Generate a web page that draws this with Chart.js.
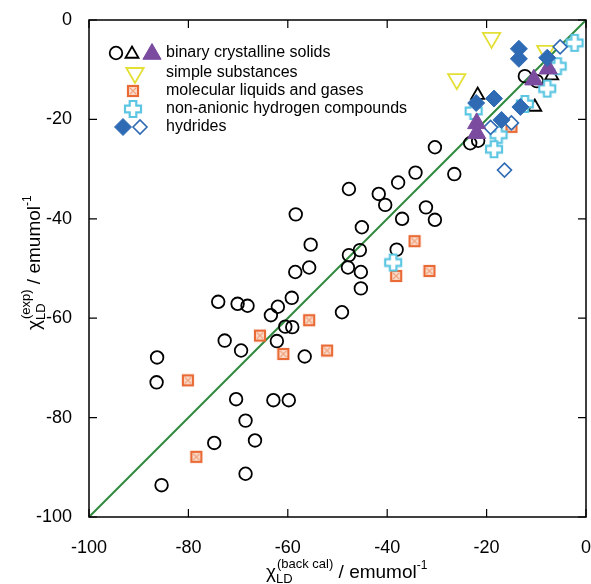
<!DOCTYPE html>
<html>
<head>
<meta charset="utf-8">
<script src="https://cdn.jsdelivr.net/npm/chart.js@4/dist/chart.umd.min.js"></script>
<style>
  html, body { margin: 0; padding: 0; background: #fff; }
  #wrap { width: 591px; height: 584px; position: relative; }
</style>
</head>
<body>
<div id="wrap"><canvas id="chart" width="591" height="584"></canvas></div>
<script>
// binary crystalline solids - open circles
const circleX = [-12.3, -9.9, -23.3, -21.7, -30.4, -34.3, -26.5, -37.8, -47.7, -41.7, -40.4, -32.2, -30.4, -37.0,
  -58.4, -45.1, -55.4, -38.1, -45.5, -47.7, -47.9, -55.7, -58.5, -45.3, -45.3, -59.2, -74.0, -70.1, -68.1, -62.0,
  -49.1, -63.4, -60.5, -59.1, -72.7, -62.2, -69.4, -56.6, -86.3, -86.4, -70.4, -62.9, -59.8, -68.5, -74.8, -66.6,
  -68.5, -85.4];
const circleY = [-11.3, -12.3, -24.8, -24.3, -25.6, -30.7, -31.0, -32.7, -34.0, -35.0, -37.2, -37.7, -40.2, -40.0,
  -39.1, -41.7, -45.2, -46.2, -46.3, -47.3, -49.8, -49.8, -50.7, -50.7, -54.0, -55.9, -56.7, -57.1, -57.5, -57.7,
  -58.8, -59.4, -61.7, -61.8, -64.5, -64.6, -66.5, -67.7, -67.9, -72.9, -76.3, -76.5, -76.5, -80.6, -85.1, -84.6,
  -91.3, -93.6];
// binary crystalline solids - open triangles
const openTriX = [-6.9, -21.8, -10.3];
const openTriY = [-11.2, -15.1, -17.5];
// binary crystalline solids - filled triangles
const fillTriX = [-7.6, -10.5, -22.0, -22.0];
const fillTriY = [-9.8, -12.0, -20.8, -22.8];
// simple substances
const simpleX = [-19.0, -8.1, -26.0];
const simpleY = [-3.6, -6.2, -11.9];
// molecular liquids and gases
const moleculeX = [-15.0, -34.5, -38.2, -31.5, -55.7, -52.1, -65.6, -60.9, -80.1, -78.4];
const moleculeY = [-21.5, -44.5, -51.5, -50.5, -60.4, -66.5, -63.5, -67.2, -72.5, -87.9];
// non-anionic hydrogen compounds
const hydrogenX = [-2.3, -5.7, -7.8, -22.6, -12.3, -17.6, -18.5, -38.8];
const hydrogenY = [-4.6, -9.3, -13.8, -18.3, -16.9, -23.1, -26.0, -48.8];
// hydrides
const hydrideFillX = [-13.5, -13.5, -7.8, -18.5, -22.1, -13.2, -17.0];
const hydrideFillY = [-5.8, -7.8, -7.6, -15.8, -16.7, -17.5, -20.1];
const hydrideOpenX = [-5.2, -19.2, -15.0, -16.4];
const hydrideOpenY = [-5.4, -21.6, -20.7, -30.2];

const tickValues = [-100, -80, -60, -40, -20, 0];
const legendLabels = ['binary crystalline solids', 'simple substances', 'molecular liquids and gases',
  'non-anionic hydrogen compounds', 'hydrides'];

const FONT = '"Liberation Sans", Arial, Helvetica, sans-serif';

function pts(xs, ys) {
  return xs.map((x, i) => ({ x: x, y: ys[i] }));
}

// outlined plus marker
function makeCross() {
  const c = document.createElement('canvas');
  c.width = 20; c.height = 20;
  const g = c.getContext('2d');
  const m = 10, a = 3.3, L = 8;
  g.beginPath();
  g.moveTo(m - a, m - L); g.lineTo(m + a, m - L); g.lineTo(m + a, m - a); g.lineTo(m + L, m - a);
  g.lineTo(m + L, m + a); g.lineTo(m + a, m + a); g.lineTo(m + a, m + L); g.lineTo(m - a, m + L);
  g.lineTo(m - a, m + a); g.lineTo(m - L, m + a); g.lineTo(m - L, m - a); g.lineTo(m - a, m - a);
  g.closePath();
  g.fillStyle = '#fff';
  g.fill();
  g.strokeStyle = '#5cc6e2';
  g.lineWidth = 2.2;
  g.stroke();
  return c;
}

// orange square with an x inside
function makeBoxX() {
  const c = document.createElement('canvas');
  c.width = 14; c.height = 14;
  const g = c.getContext('2d');
  g.fillStyle = '#fbe0d2';
  g.fillRect(2, 2, 10, 10);
  g.strokeStyle = '#f0a27c';
  g.lineWidth = 1.3;
  g.beginPath();
  g.moveTo(4, 4); g.lineTo(10, 10);
  g.moveTo(10, 4); g.lineTo(4, 10);
  g.stroke();
  g.strokeStyle = '#ea6a35';
  g.lineWidth = 2.2;
  g.strokeRect(2, 2, 10, 10);
  return c;
}

const crossImg = makeCross();
const boxImg = makeBoxX();

const styles = {
  circle: { pointStyle: 'circle', radius: 6.3, borderColor: '#000', backgroundColor: 'rgba(0,0,0,0)', borderWidth: 1.8, rotation: 0 },
  openTri: { pointStyle: 'triangle', radius: 7.5, borderColor: '#000', backgroundColor: '#fff', borderWidth: 1.8, rotation: 0 },
  fillTri: { pointStyle: 'triangle', radius: 10.5, borderColor: '#7a4b9f', backgroundColor: '#7a4b9f', borderWidth: 1, rotation: 0 },
  simple: { pointStyle: 'triangle', radius: 10, borderColor: '#e4df35', backgroundColor: 'rgba(0,0,0,0)', borderWidth: 1.8, rotation: 180 },
  molecule: { pointStyle: boxImg, radius: 7, borderColor: '#ea6a35', backgroundColor: '#ea6a35', borderWidth: 1, rotation: 0 },
  hydrogen: { pointStyle: crossImg, radius: 10, borderColor: '#5cc6e2', backgroundColor: '#fff', borderWidth: 1, rotation: 0 },
  hydFill: { pointStyle: 'rectRot', radius: 8.5, borderColor: '#2f6bb4', backgroundColor: '#2f6bb4', borderWidth: 1, rotation: 0 },
  hydOpen: { pointStyle: 'rectRot', radius: 7, borderColor: '#2f6bb4', backgroundColor: '#fff', borderWidth: 1.6, rotation: 0 }
};

function scatterSet(label, xs, ys, st) {
  return {
    type: 'scatter',
    label: label,
    data: pts(xs, ys),
    pointStyle: st.pointStyle,
    pointRadius: st.radius,
    pointBorderColor: st.borderColor,
    pointBackgroundColor: st.backgroundColor,
    pointBorderWidth: st.borderWidth,
    pointRotation: st.rotation
  };
}

const datasets = [
  scatterSet('hydrides filled', hydrideFillX, hydrideFillY, styles.hydFill),
  scatterSet('binary filled', fillTriX, fillTriY, styles.fillTri),
  scatterSet('hydrides open', hydrideOpenX, hydrideOpenY, styles.hydOpen),
  scatterSet('hydrogen', hydrogenX, hydrogenY, styles.hydrogen),
  scatterSet('molecular', moleculeX, moleculeY, styles.molecule),
  scatterSet('simple', simpleX, simpleY, styles.simple),
  scatterSet('binary open tri', openTriX, openTriY, styles.openTri),
  scatterSet('binary circles', circleX, circleY, styles.circle),
  {
    type: 'line',
    label: 'y = x',
    data: [{ x: -100, y: -100 }, { x: 0, y: 0 }],
    borderColor: '#2f8a3f',
    borderWidth: 2,
    pointRadius: 0,
    fill: false
  }
];

function marker(ctx, st, x, y) {
  ctx.save();
  ctx.strokeStyle = st.borderColor;
  ctx.fillStyle = st.backgroundColor;
  ctx.lineWidth = st.borderWidth;
  Chart.helpers.drawPoint(ctx, { pointStyle: st.pointStyle, radius: st.radius, rotation: st.rotation, borderWidth: st.borderWidth }, x, y);
  ctx.restore();
}

const decor = {
  id: 'decor',
  afterDraw(chart) {
    const ctx = chart.ctx;
    const a = chart.chartArea;
    const xs = chart.scales.x, ys = chart.scales.y;
    ctx.save();
    // frame
    ctx.strokeStyle = '#000';
    ctx.lineWidth = 1.5;
    ctx.strokeRect(a.left, a.top, a.right - a.left, a.bottom - a.top);
    // inward ticks on all sides
    ctx.lineWidth = 1.2;
    ctx.beginPath();
    tickValues.forEach(v => {
      const px = xs.getPixelForValue(v);
      const py = ys.getPixelForValue(v);
      ctx.moveTo(px, a.bottom); ctx.lineTo(px, a.bottom - 8);
      ctx.moveTo(px, a.top); ctx.lineTo(px, a.top + 8);
      ctx.moveTo(a.left, py); ctx.lineTo(a.left + 8, py);
      ctx.moveTo(a.right, py); ctx.lineTo(a.right - 8, py);
    });
    ctx.stroke();

    // legend
    const rows = [53, 73, 91, 109, 127];
    marker(ctx, styles.circle, 116, rows[0]);
    marker(ctx, styles.openTri, 132, rows[0] + 1);
    marker(ctx, styles.fillTri, 152, rows[0] + 1);
    marker(ctx, styles.simple, 135, rows[1]);
    marker(ctx, styles.molecule, 133, rows[2]);
    marker(ctx, styles.hydrogen, 133, rows[3]);
    marker(ctx, styles.hydFill, 123, rows[4]);
    marker(ctx, styles.hydOpen, 140, rows[4]);
    ctx.fillStyle = '#000';
    ctx.font = '16px ' + FONT;
    ctx.textBaseline = 'middle';
    ctx.textAlign = 'left';
    legendLabels.forEach((t, i) => ctx.fillText(t, 166, rows[i]));

    // x axis title
    ctx.textBaseline = 'alphabetic';
    let x = 266, base = 578;
    ctx.font = '19px ' + FONT;
    ctx.fillText('\u03c7', x, base); x += ctx.measureText('\u03c7').width;
    ctx.font = '13px ' + FONT;
    ctx.fillText('LD', x, base + 5);
    ctx.fillText('(back cal)', x + 1, base - 10); x += ctx.measureText('(back cal)').width + 1;
    ctx.font = '19px ' + FONT;
    ctx.fillText(' / emumol', x, base); x += ctx.measureText(' / emumol').width;
    ctx.font = '12px ' + FONT;
    ctx.fillText('-1', x, base - 9);

    // y axis title
    ctx.save();
    ctx.translate(40, 330);
    ctx.rotate(-Math.PI / 2);
    x = 0;
    ctx.font = '19px ' + FONT;
    ctx.fillText('\u03c7', x, 0); x += ctx.measureText('\u03c7').width;
    ctx.font = '13px ' + FONT;
    ctx.fillText('LD', x, 5);
    ctx.fillText('(exp)', x + 1, -10); x += ctx.measureText('(exp)').width + 1;
    ctx.font = '19px ' + FONT;
    ctx.fillText(' / emumol', x, 0); x += ctx.measureText(' / emumol').width;
    ctx.font = '12px ' + FONT;
    ctx.fillText('-1', x, -9);
    ctx.restore();
    ctx.restore();
  }
};

new Chart(document.getElementById('chart'), {
  type: 'scatter',
  data: { datasets: datasets },
  options: {
    responsive: false,
    animation: false,
    layout: { autoPadding: false, padding: { left: 0, top: 20, right: 5, bottom: 0 } },
    plugins: { legend: { display: false }, tooltip: { enabled: false } },
    scales: {
      x: {
        type: 'linear', min: -100, max: 0,
        grid: { display: false }, border: { display: false },
        ticks: { stepSize: 20, padding: 12, color: '#000', font: { family: FONT, size: 18 }, maxRotation: 0 },
        afterFit: s => { s.height = 67; s.paddingLeft = 0; s.paddingRight = 0; }
      },
      y: {
        type: 'linear', min: -100, max: 0,
        grid: { display: false }, border: { display: false },
        ticks: { stepSize: 20, padding: 9, color: '#000', font: { family: FONT, size: 18 } },
        afterFit: s => { s.width = 89; s.paddingTop = 0; s.paddingBottom = 0; }
      }
    }
  },
  plugins: [decor]
});
</script>
</body>
</html>
